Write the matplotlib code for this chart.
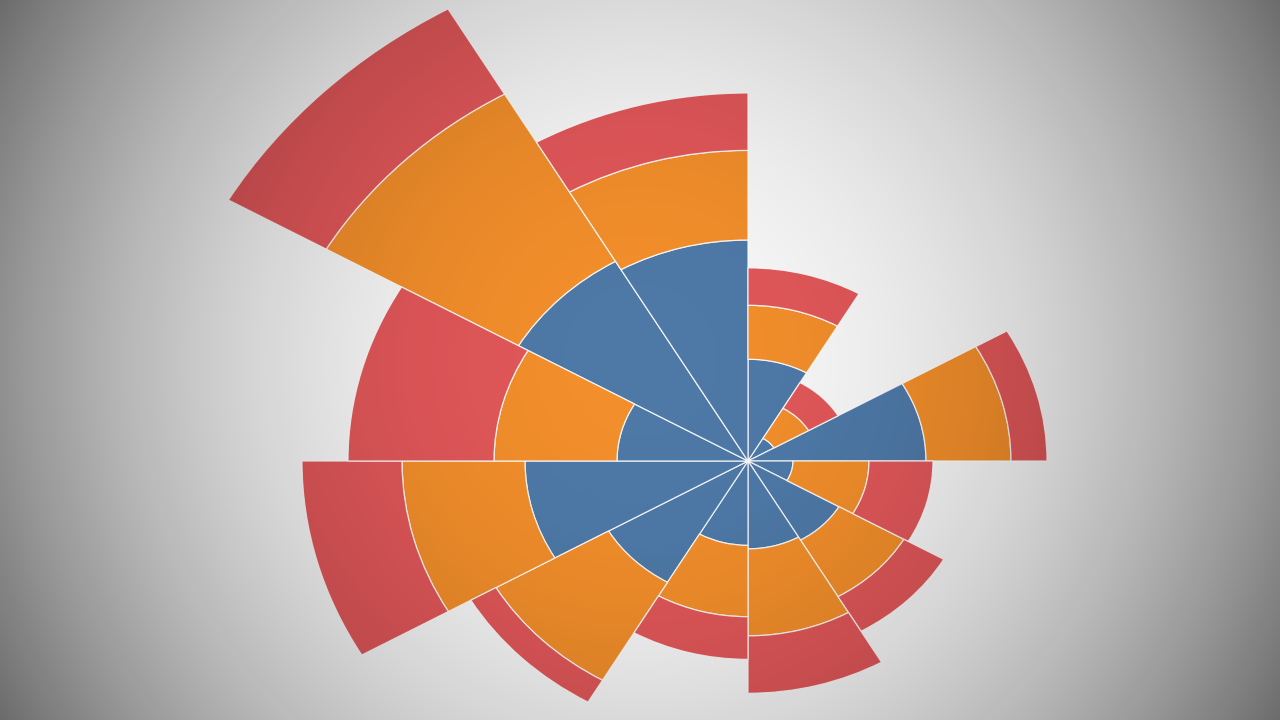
import numpy as np
import matplotlib
matplotlib.use("Agg")
from matplotlib import pyplot as plt

# sectors go clockwise from north, 30 degrees each
sectors = list(range(12))
blue_vals = [117, 30, 178, 45, 105, 101, 97, 161, 223, 131, 265, 254]
orange_vals = [62, 40, 85, 76, 75, 100, 82, 130, 123, 123, 222, 103]
red_vals = [43, 34, 36, 64, 46, 66, 49, 29, 100, 146, 113, 66]

colors = ["#4e79a7", "#f28e2b", "#e15759"]

W, H = 1280, 720
fig = plt.figure(figsize=(W / 100, H / 100), dpi=100)
fig.patch.set_facecolor("#f7f7f7")

# polar axes, squashed vertically like the reference
cx, cy = 748, H - 461
rmax = 620
k = 0.87
ax = fig.add_axes([(cx - rmax) / W, (cy - rmax * k) / H,
                   2 * rmax / W, 2 * rmax * k / H], projection="polar")
ax.set_aspect("auto")
ax.set_theta_zero_location("N")
ax.set_theta_direction(-1)
ax.set_ylim(0, rmax)
ax.set_axis_off()

width = 2 * np.pi / len(sectors)
theta = np.array(sectors) * width
bottom = np.zeros(len(sectors))
for vals, col in zip([blue_vals, orange_vals, red_vals], colors):
    ax.bar(theta, vals, width=width, bottom=bottom, align="edge",
           color=col, edgecolor=(1, 1, 1, 0.85), linewidth=0.9)
    bottom = bottom + np.array(vals)

# vignette overlay, darkens towards the edges
ov = fig.add_axes([0, 0, 1, 1], zorder=10)
yy, xx = np.mgrid[0:H, 0:W]
r = np.hypot(xx - W / 2, yy - H / 2) / np.hypot(W / 2, H / 2)
bright = 0.97 - 0.55 * r ** 2.2
alpha = 1 - bright / 0.97
img = np.zeros((H, W, 4))
img[..., 3] = alpha
ov.imshow(img, extent=[0, W, H, 0], aspect="auto", interpolation="bilinear")
ov.set_axis_off()

plt.savefig("out.png", dpi=100, facecolor=fig.get_facecolor())
